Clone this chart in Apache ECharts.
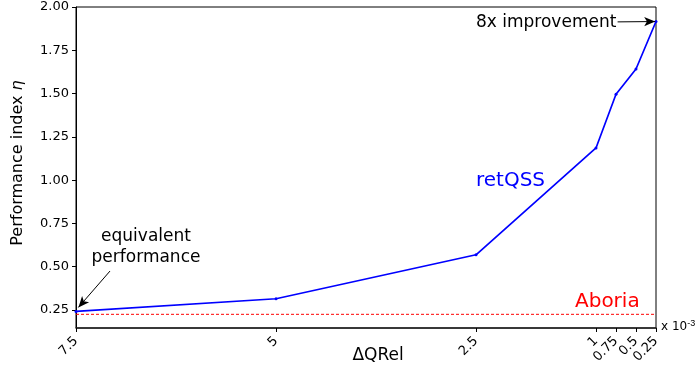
<!DOCTYPE html>
<html><head><meta charset="utf-8">
<script src="https://cdn.jsdelivr.net/npm/echarts@6/dist/echarts.min.js"></script>
<style>html,body{margin:0;padding:0;background:#fff}#c{width:696px;height:373px}</style>
</head><body><div id="c"></div>
<script>
// Data (x in units of 1e-3)
const dqrel = [7.5, 5, 2.5, 1, 0.75, 0.5, 0.25];
const retqss = [0.242, 0.315, 0.569, 1.186, 1.496, 1.642, 1.916];
const aboriaLevel = 0.225;
const xTicks = [7.5, 5, 2.5, 1, 0.75, 0.5, 0.25];
const yTicks = [0.25, 0.5, 0.75, 1.0, 1.25, 1.5, 1.75, 2.0];

const chart = echarts.init(document.getElementById('c'));
const F = 'DejaVu Sans';
const xMin = Math.min(...dqrel), xMax = Math.max(...dqrel);
chart.setOption({
  animation: false,
  grid: {left: 76, right: 40, top: 7, bottom: 45, show: true, borderColor: '#000', borderWidth: 1},
  xAxis: {
    type: 'value', inverse: true, min: xMin, max: xMax,
    axisLine: {lineStyle: {color: '#222', width: 1.5}},
    axisTick: {customValues: xTicks, length: 4, lineStyle: {color: '#000'}},
    axisLabel: {customValues: xTicks, rotate: 45,
      color: '#000', fontFamily: F, fontSize: 13, margin: 11,
      formatter: v => String(v)},
    splitLine: {show: false}
  },
  yAxis: {
    type: 'value', min: 0.146, max: 2.0,
    axisLine: {show: true, lineStyle: {color: '#000', width: 1}},
    axisTick: {show: true, customValues: yTicks, length: 4, lineStyle: {color: '#000'}},
    axisLabel: {customValues: yTicks, color: '#000', fontFamily: F, fontSize: 13, margin: 7,
      formatter: v => v.toFixed(2)},
    splitLine: {show: false}
  },
  series: [{
    name: 'Aboria', type: 'line', data: [[xMax, aboriaLevel], [xMin, aboriaLevel]],
    showSymbol: false, silent: true,
    lineStyle: {color: '#ff0000', type: [3, 2], width: 1}, itemStyle: {color: '#ff0000'}
  }, {
    name: 'retQSS', type: 'line', data: dqrel.map((x, i) => [x, retqss[i]]),
    lineStyle: {color: '#0000ff', width: 1.7}, itemStyle: {color: '#0000ff'},
    symbol: 'circle', symbolSize: 3, showSymbol: true,
    markLine: {
      silent: true, symbol: ['none', 'arrow'], symbolSize: [7, 11],
      lineStyle: {color: '#000', width: 1, type: 'solid'}, label: {show: false},
      data: [
        [{coord: [0.73, 1.914]}, {coord: [0.26, 1.916]}],
        [{coord: [7.075, 0.475]}, {coord: [7.47, 0.265]}]
      ]
    }
  }],
  graphic: [
    {type: 'text', left: 476, top: 14, style: {text: '8x improvement', font: '17px "DejaVu Sans"', fill: '#000'}},
    {type: 'text', x: 146, y: 247, style: {text: 'equivalent\nperformance', font: '17px "DejaVu Sans"', fill: '#000', align: 'center', verticalAlign: 'middle', lineHeight: 21}},
    {type: 'text', left: 476, top: 171, style: {text: 'retQSS', font: '20px "DejaVu Sans"', fill: '#0000ff'}},
    {type: 'text', left: 575, top: 292, style: {text: 'Aboria', font: '20px "DejaVu Sans"', fill: '#ff0000'}},
    {type: 'text', x: 378, y: 356, style: {text: 'ΔQRel', font: '17px "DejaVu Sans"', fill: '#000', align: 'center', verticalAlign: 'middle'}},
    {type: 'text', x: 18, y: 163, rotation: Math.PI / 2, style: {text: 'Performance index {i|η}', font: '16px "DejaVu Sans"', fill: '#000', align: 'center', verticalAlign: 'middle', rich: {i: {fontFamily: F, fontSize: 16, fontStyle: 'italic'}}}},
    {type: 'text', left: 661, top: 319, style: {text: 'x 10{s|-3}', font: '12px "DejaVu Sans"', fill: '#000', rich: {s: {fontSize: 9, verticalAlign: 'top', padding: [0, 0, 6, 0]}}}}
  ]
});
</script></body></html>
